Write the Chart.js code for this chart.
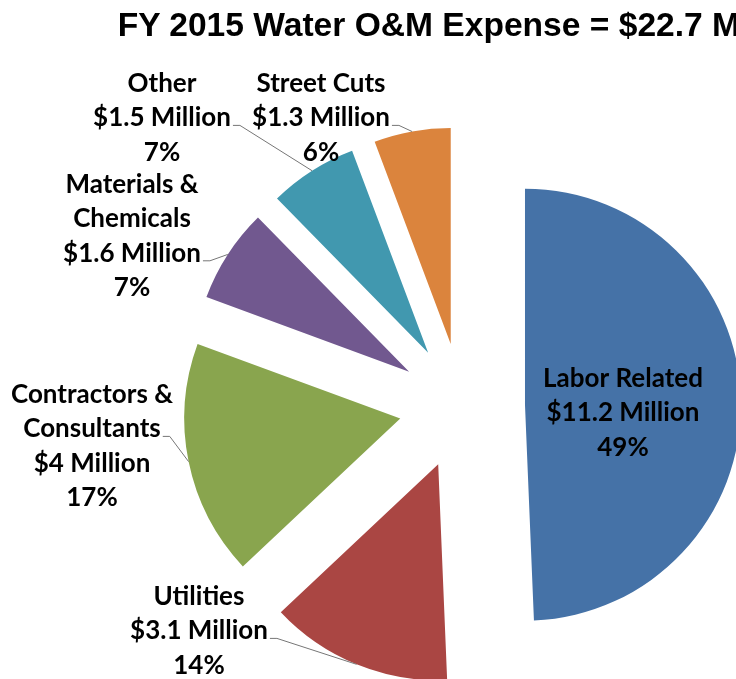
<!DOCTYPE html>
<html>
<head>
<meta charset="utf-8">
<script src="https://cdn.jsdelivr.net/npm/chart.js@4.4.1/dist/chart.umd.min.js"></script>
<style>
  html, body { margin: 0; padding: 0; background: #fff; overflow: hidden; }
  #wrap { position: relative; width: 924px; height: 679px; }
  #title {
    position: absolute; top: 8px; left: 68px; width: 800px;
    text-align: center; white-space: nowrap;
    font: bold 33.6px/1 "Liberation Sans", Arial, sans-serif; color: #000;
  }
</style>
</head>
<body>
<div id="wrap">
  <canvas id="chart" width="924" height="679"></canvas>
  <div id="title">FY 2015 Water O&amp;M Expense = $22.7 Million</div>
</div>
<script>
// FY 2015 Water O&M expense, by category (slices clockwise from 12 o'clock)
const categories = ['Labor Related', 'Utilities', 'Contractors & Consultants', 'Materials & Chemicals', 'Other', 'Street Cuts'];
const millions = [11.2, 3.1, 4, 1.6, 1.5, 1.3];
const shares = [49, 14, 17, 7, 7, 6];
const colors = ['#4572A7', '#AA4643', '#89A54E', '#71588F', '#4198AF', '#DB843D'];

// label blocks: [center x, first baseline, line the leader starts from]
const labelPos = [[623, 387, -1], [199, 605, 1], [92, 403, 1], [132, 193, 2], [162, 92, 1], [321, 92, 1]];

const RADIUS = 216;
const EXPLODE = 63;
const LABEL_FONT = 'bold 26px Lato, "Open Sans", sans-serif';
const LINE_H = 34.4;

// v4 moves an arc by offset/4 but also grows it by offset/4 * (1 - sin(circumference))
// and trims its ends, undo that so all slices keep one radius and their real angles
const explode = {
  id: 'explode',
  afterDatasetUpdate(chart, args) {
    args.meta.data.forEach(arc => {
      const grow = EXPLODE * (1 - Math.sin(Math.min(Math.PI, arc.circumference)));
      const widen = grow / (2 * Math.PI * RADIUS);
      arc.outerRadius = RADIUS - grow;
      arc.startAngle -= widen;
      arc.endAngle += widen;
    });
  }
};

const sliceLabels = {
  id: 'sliceLabels',
  afterDatasetsDraw(chart) {
    const ctx = chart.ctx;
    const arcs = chart.getDatasetMeta(0).data;
    ctx.save();
    ctx.font = LABEL_FONT;
    ctx.fillStyle = '#000';
    ctx.textAlign = 'center';
    ctx.textBaseline = 'alphabetic';
    arcs.forEach((arc, i) => {
      const [cx, y0, attach] = labelPos[i];
      const lines = categories[i].split(/(?<=&) /).concat(['$' + millions[i] + ' Million', shares[i] + '%']);
      lines.forEach((t, k) => ctx.fillText(t, cx, y0 + k * LINE_H));
      if (attach < 0) return;

      // leader line: short tail off the text, then to the middle of the slice's rim
      const y = y0 + attach * LINE_H - 1;
      const x = cx + ctx.measureText(lines[attach]).width / 2 + 2;
      const mid = (arc.startAngle + arc.endAngle) / 2;
      const r = EXPLODE + RADIUS;
      ctx.beginPath();
      ctx.moveTo(x, y);
      ctx.lineTo(x + 7, y);
      ctx.lineTo(arc.x + Math.cos(mid) * r, arc.y + Math.sin(mid) * r);
      ctx.strokeStyle = '#767676';
      ctx.lineWidth = 1;
      ctx.stroke();
    });
    ctx.restore();
  }
};

new Chart(document.getElementById('chart'), {
  type: 'pie',
  data: {
    labels: categories,
    datasets: [{
      data: millions,
      backgroundColor: colors,
      borderWidth: 0,
      radius: RADIUS,
      offset: EXPLODE * 4
    }]
  },
  options: {
    responsive: false,
    animation: false,
    // room above the pie for the title
    layout: { padding: { top: 133 } },
    plugins: {
      legend: { display: false },
      tooltip: { enabled: false }
    }
  },
  plugins: [explode, sliceLabels]
});
</script>
</body>
</html>
